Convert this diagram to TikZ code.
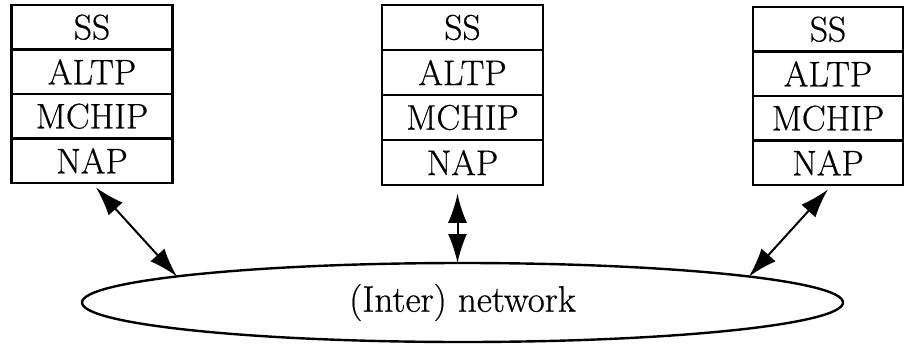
\documentclass[tikz,border=0pt]{standalone}
\usepackage{fontspec}
\setmainfont{Latin Modern Roman}[FakeBold=0.6]
\usetikzlibrary{shapes.geometric,arrows.meta}

\tikzset{
  layer/.style={draw, line width=2.4pt, minimum width=161pt, minimum height=44.5pt,
                inner sep=0pt, outer sep=0pt, font=\fontsize{35.5}{40}\selectfont},
  narrowlayer/.style={layer, minimum width=150pt},
  cloud/.style={draw, ellipse, line width=2.4pt, minimum width=761pt, minimum height=79pt,
                inner sep=0pt, outer sep=0pt, font=\fontsize{37}{42}\selectfont},
  link/.style={line width=2pt, {Latex[length=29pt,width=19pt]}-{Latex[length=29pt,width=19pt]}}
}

\begin{document}
\begin{tikzpicture}[x=1pt,y=-1pt]
  \useasboundingbox (0,0) rectangle (904,343);

  % left protocol stack
  \node[layer] (lss)  at (92,27.25)   {SS};
  \node[layer] (lal)  at (92,71.75)   {ALTP};
  \node[layer] (lmc)  at (92,116.25)  {MCHIP};
  \node[layer] (lnap) at (92,160.75)  {NAP};

  % middle protocol stack
  \node[layer] (mss)  at (462.5,27.5)  {SS};
  \node[layer] (mal)  at (462.5,72.5)  {ALTP};
  \node[layer] (mmc)  at (462.5,117.5) {MCHIP};
  \node[layer] (mnap) at (462.5,162.5) {NAP};

  % right protocol stack
  \node[narrowlayer] (rss)  at (828,29.25)  {SS};
  \node[narrowlayer] (ral)  at (828,73.75)  {ALTP};
  \node[narrowlayer] (rmc)  at (828,118.25) {MCHIP};
  \node[narrowlayer] (rnap) at (828,162.75) {NAP};

  % shared network
  \node[cloud] (net) at (462.5,302.5) {(Inter) network};

  % points where the links meet the network outline
  \coordinate (lhit) at (177,276.5);
  \coordinate (rhit) at (749,276.5);

  % links between each stack and the network
  \draw[link, shorten <=6pt] (lnap.south) -- (lhit);
  \draw[link, shorten <=9pt] ([xshift=-5pt]mnap.south) -- ([xshift=-5pt]net.north);
  \draw[link, shorten <=6pt] ([xshift=4pt]rnap.south) -- (rhit);
\end{tikzpicture}
\end{document}
